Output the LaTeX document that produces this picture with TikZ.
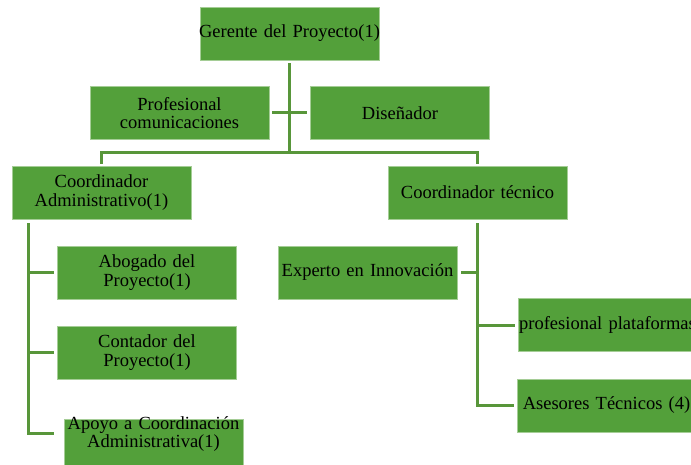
\documentclass[tikz,border=0pt]{standalone}
\usepackage{fontspec}
\setmainfont{Liberation Serif}
\usepackage{xcolor}
\definecolor{boxgreen}{RGB}{83,160,58}
\definecolor{linegreen}{RGB}{88,150,58}
\definecolor{edgegreen}{RGB}{165,205,150}
\usetikzlibrary{calc}

\begin{document}
\begin{tikzpicture}[x=1pt, y=-1pt, line width=3pt,
				box/.style={fill=boxgreen, draw=edgegreen, line width=0.7pt,
					inner xsep=-10pt, text width=199pt, align=center,
					minimum height=53pt, font=\fontsize{18.5}{18.5}\selectfont},
				link/.style={draw=linegreen, line width=3pt,
					shorten <=3pt, shorten >=3pt}]
			\useasboundingbox (0,0) rectangle (691,465);

			\node[box] (ger) at (289.5, 33.5) {Gerente del Proyecto(1)};
			\node[box] (prof) at (179.5, 113) {Profesional\\comunicaciones};
			\node[box] (dis) at (400, 113) {Diseñador};
			\node[box] (cadm) at (101.5, 192.5) {Coordinador\\Administrativo(1)};
			\node[box] (ctec) at (477.5, 192.5) {Coordinador técnico};

			\node[box] (abog) at (147, 272.5) {Abogado del\\Proyecto(1)};
			\node[box] (cont) at (147, 352.5) {Contador del\\Proyecto(1)};
			\node[box, inner ysep=0pt, text height=10pt, text depth=43pt]
				(apoyo) at (153.5, 445.5) {Apoyo a Coordinación\\Administrativa(1)};

			\node[box] (exp) at (367.5, 272.5) {Experto en Innovación};
			\node[box] (plat) at (607.5, 325) {profesional plataformas};
			\node[box] (ases) at (606.5, 405.5) {Asesores Técnicos (4)};

			\coordinate (bar) at (289.5, 153);
			\coordinate (spine) at ($(cadm.south west)+(17,0)$);

			\draw[link, shorten >=0pt] (ger.south) -- (bar);
			\draw[link] (prof) -- (dis);
			\draw[link, shorten <=2pt, shorten >=2pt] (cadm.north) |- (bar) -| (ctec.north);

			\foreach \n in {abog, cont} {
					\draw[link, shorten <=4pt] (spine) |- (\n.west);
				}
			\draw[link, shorten <=4pt, shorten >=10pt] (spine) |- ([yshift=12.5pt]apoyo.west);

			\foreach \n in {plat, ases} {
					\draw[link, shorten <=4pt] (ctec.south) |- (\n.west);
				}
			\draw[link, shorten <=4pt, shorten >=4pt] (ctec.south) |- (exp.east);
		\end{tikzpicture}
\end{document}
